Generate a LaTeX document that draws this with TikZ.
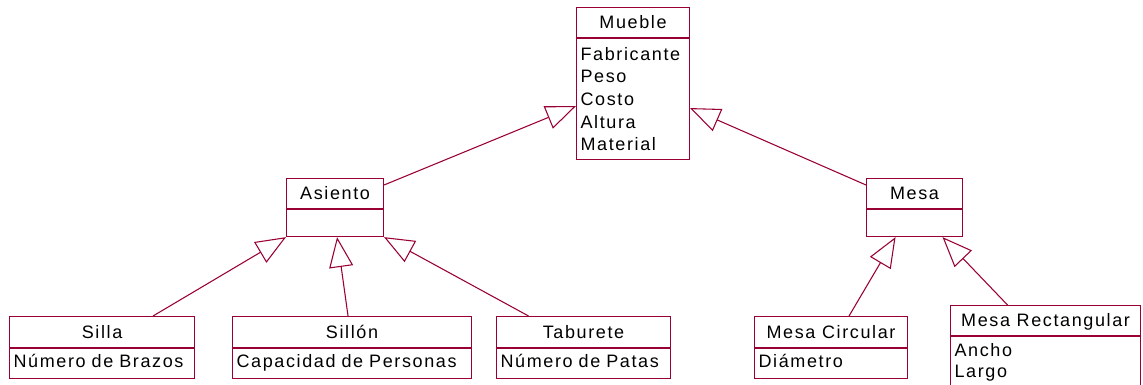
\documentclass[tikz,border=0pt]{standalone}
\usepackage{fontspec}
\setmainfont{Liberation Sans}
\newfontfamily\umlfont[LetterSpace=9]{Liberation Sans}
\usetikzlibrary{positioning,arrows.meta,calc}
\definecolor{umlred}{RGB}{153,0,51}

\begin{document}
\begin{tikzpicture}[
  x=0.75pt, y=-0.75pt,
  font=\umlfont\fontsize{13.5}{16.9}\selectfont,
  cls/.style={draw=umlred, line width=0.8pt, inner sep=0pt, anchor=north west},
  head/.style={cls, minimum height=22.5pt, text height=0.95em, text depth=0pt, align=center},
  body/.style={cls, inner xsep=3pt, align=left},
  single/.style={text height=0.75em, text depth=0.2em},
  isa/.style={draw=umlred, line width=0.8pt, -{Triangle[open, length=22.5pt, width=18pt]}},
]
\useasboundingbox (0,0) rectangle (1143,385);
% ---- Mueble (top) ----
\node[head, minimum width=84.75pt] (muebleH) at (576,7) {Mueble};
\node[body, text width=78.75pt, minimum height=90.75pt] (muebleB) at (muebleH.south west)
  {Fabricante\\Peso\\Costo\\Altura\\Material};
% ---- Asiento / Mesa ----
\node[head, minimum width=72.75pt] (asientoH) at (286,178) {Asiento};
\node[body, text width=66.75pt, minimum height=20.25pt] (asientoB) at (asientoH.south west) {};
\node[head, minimum width=72pt] (mesaH) at (866,178) {Mesa};
\node[body, text width=66pt, minimum height=20.25pt] (mesaB) at (mesaH.south west) {};
% ---- bottom row ----
\node[head, minimum width=138.75pt, minimum height=23.25pt] (sillaH) at (9,316) {Silla};
\node[body, single, text width=132.75pt, minimum height=22.5pt] (sillaB) at (sillaH.south west)
  {Número de Brazos};
\node[head, minimum width=179.25pt, minimum height=23.25pt] (sillonH) at (232,316) {Sillón};
\node[body, single, text width=173.25pt, minimum height=22.5pt] (sillonB) at (sillonH.south west)
  {Capacidad de Personas};
\node[head, minimum width=130.5pt, minimum height=23.25pt] (taburH) at (496,316) {Taburete};
\node[body, single, text width=124.5pt, minimum height=22.5pt] (taburB) at (taburH.south west)
  {Número de Patas};
\node[head, minimum width=114.75pt, minimum height=23.25pt] (circH) at (754,316) {Mesa Circular};
\node[body, single, text width=108.75pt, minimum height=22.5pt] (circB) at (circH.south west)
  {Diámetro};
\node[head, minimum width=142.5pt] (rectH) at (950,305) {Mesa Rectangular};
\node[body, text width=136.5pt, minimum height=39pt, font=\umlfont\fontsize{13.5}{15.75}\selectfont]
  (rectB) at (rectH.south west) {Ancho\\Largo};
% ---- generalisations ----
\draw[isa] ($(asientoH.north east)+(0,7)$) -- ($(muebleB.north west)+(0,68)$);
\draw[isa] ($(mesaH.north west)+(0,7)$) -- ($(muebleB.north east)+(0,70)$);
\draw[isa] ($(sillaH.north)+(51,0)$) -- (asientoB.south west);
\draw[isa] ($(sillonH.north)+(-4,0)$) -- ($(asientoB.south)+(2,0)$);
\draw[isa] ($(taburH.north)+(-55,0)$) -- (asientoB.south east);
\draw[isa] ($(circH.north)+(18,0)$) -- ($(mesaB.south)+(-19,0)$);
\draw[isa] ($(rectH.north)+(-38,0)$) -- ($(mesaB.south)+(28,0)$);
\end{tikzpicture}
\end{document}
